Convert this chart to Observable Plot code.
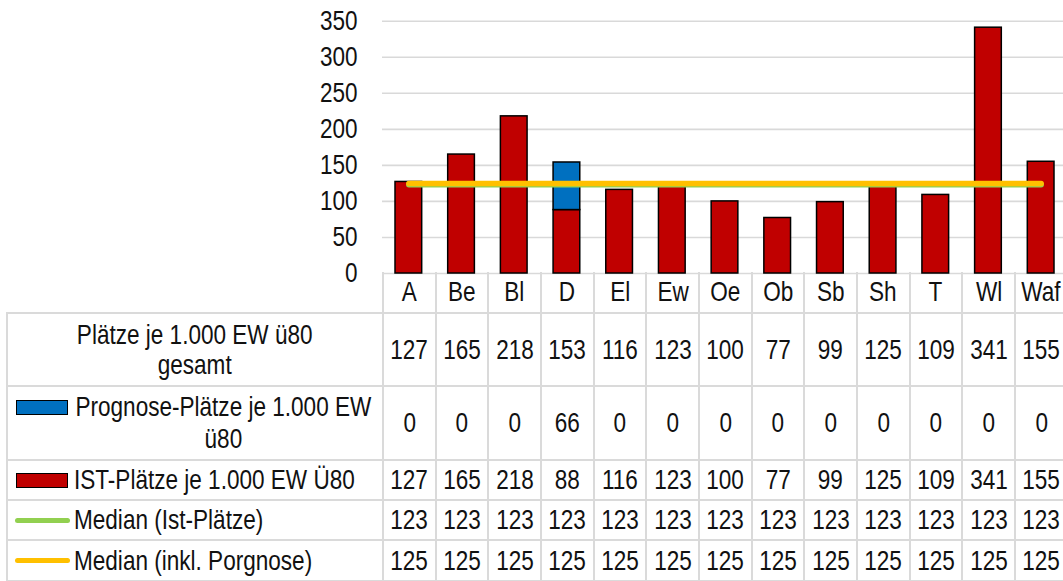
<!DOCTYPE html>
<html>
<head>
<meta charset="utf-8">
<script src="https://cdn.jsdelivr.net/npm/d3@7"></script>
<script src="https://cdn.jsdelivr.net/npm/@observablehq/plot@0.6"></script>
<style>
  html, body { margin: 0; padding: 0; background: #fff; }
  body { width: 1063px; height: 581px; overflow: hidden; position: relative;
         font-family: "Liberation Sans", Arial, sans-serif; color: #111; }
  #chart { position: absolute; left: 0; top: 0; }
  #tbl { position: absolute; left: 6px; top: 272.3px; width: 1060.7px; border-collapse: collapse; table-layout: fixed;
         font-size: 27.5px; }
  #tbl td { border: 2px solid #dadada; padding: 0; text-align: center; vertical-align: middle; white-space: nowrap; overflow: visible; }
  #tbl tr.cats td { border-top: none; }
  #tbl tr.cats td.blank { border-left: none; }
  .s { display: inline-block; transform: scaleX(0.82); transform-origin: 50% 50%; }
  .lab { display: flex; align-items: center; padding-left: 8px; text-align: left; }
  .lab .txt { margin-left: 6px; }
  .lab .lkey + .txt { margin-left: 4px; }
  .lab .txt .s { transform-origin: 0 50%; }
  .lab.two { align-items: flex-start; padding-right: 9px; }
  .lab.two .txt { flex: 1; display: flex; justify-content: center; text-align: center; line-height: 32px; margin-left: 6px; min-width: 0; }
  .lab.two .txt .s { transform-origin: 50% 50%; flex: none; }
  .key { display: inline-block; box-sizing: border-box; width: 52px; height: 15px; border: 1.5px solid #000; flex: none; }
  .lab.two .key { margin-top: 8.5px; }
  .lkey { display: inline-block; width: 55px; height: 5px; border-radius: 3px; flex: none; margin-left: -1px; }
  .c1 { line-height: 30px; }
</style>
</head>
<body>
<div id="chart"></div>
<table id="tbl"></table>
<script>
// ---- data ----
const categories = ["A", "Be", "Bl", "D", "El", "Ew", "Oe", "Ob", "Sb", "Sh", "T", "Wl", "Waf"];
const gesamt     = [127, 165, 218, 153, 116, 123, 100, 77, 99, 125, 109, 341, 155];
const prognose   = [0, 0, 0, 66, 0, 0, 0, 0, 0, 0, 0, 0, 0];
const ist        = [127, 165, 218, 88, 116, 123, 100, 77, 99, 125, 109, 341, 155];
const medianIst  = [123, 123, 123, 123, 123, 123, 123, 123, 123, 123, 123, 123, 123];
const medianInkl = [125, 125, 125, 125, 125, 125, 125, 125, 125, 125, 125, 125, 125];
const yTicks     = [0, 50, 100, 150, 200, 250, 300, 350];

const sProg = "Prognose-Plätze je 1.000 EW ü80";
const sIst = "IST-Plätze je 1.000 EW Ü80";
const sMedIst = "Median (Ist-Plätze)";
const sMedInkl = "Median (inkl. Porgnose)";

const colors = { ist: "#C00000", prog: "#0070C0", medIst: "#92D050", medInkl: "#FFC000" };

// tidy rows for stacking: IST first, then Prognose on top
const barRows = [];
categories.forEach((c, i) => {
  barRows.push({ cat: c, series: sIst, value: ist[i] });
  barRows.push({ cat: c, series: sProg, value: prognose[i] });
});
const medIstRows = categories.map((c, i) => ({ cat: c, value: medianIst[i] }));
const medInklRows = categories.map((c, i) => ({ cat: c, value: medianInkl[i] }));

const font = '"Liberation Sans", Arial, sans-serif';

const plot = Plot.plot({
  width: 1067,
  height: 283,
  marginLeft: 382,
  marginRight: 0,
  marginTop: 20.7,
  marginBottom: 10,
  style: { fontFamily: font, fontSize: "27.5px", background: "#fff", color: "#111", overflow: "visible", maxWidth: "none" },
  x: { domain: categories, padding: 0, round: false, axis: null },
  y: { domain: [0, 350], axis: null },
  color: { domain: [sIst, sProg], range: [colors.ist, colors.prog] },
  marks: [
    Plot.gridY(yTicks, { stroke: "#d9d9d9", strokeOpacity: 1, strokeWidth: 1.6 }),
    Plot.axisY(yTicks, { anchor: "left", tickSize: 0, tickPadding: 25, label: null, fill: "#111", fontSize: 27.5 }),
    Plot.barY(barRows.filter(d => d.value > 0), Plot.stackY({
      x: "cat", y: "value", fill: "series", stroke: "#000", strokeWidth: 1.5,
      insetLeft: 13, insetRight: 13
    })),
    Plot.lineY(medIstRows, { x: "cat", y: "value", stroke: colors.medIst, strokeWidth: 5.5, strokeLinecap: "round" }),
    Plot.lineY(medInklRows, { x: "cat", y: "value", stroke: colors.medInkl, strokeWidth: 5.5, strokeLinecap: "round" })
  ]
});
plot.style.maxWidth = "none";
document.getElementById("chart").appendChild(plot);

// condense the y tick labels horizontally (narrow font look), anchored at their end
plot.querySelectorAll("text").forEach(t => {
  const bb = t.getBBox();
  const ax = bb.x + bb.width;
  const prev = t.getAttribute("transform") || "";
  t.setAttribute("transform", `${prev} translate(${ax},0) scale(0.82,1) translate(${-ax},0)`);
});

// ---- data table ----
const S = txt => `<span class="s">${txt}</span>`;
const tbl = document.getElementById("tbl");
const colW = 52.67;
let html = '<colgroup><col style="width:376px">' + categories.map(() => `<col style="width:${colW}px">`).join("") + '</colgroup>';
html += '<tr class="cats" style="height:41px"><td class="blank"></td>' + categories.map(c => `<td>${S(c)}</td>`).join("") + '</tr>';
const rows = [
  { h: 73, label: `<div class="c1">${S("Plätze je 1.000 EW ü80<br>gesamt")}</div>`, vals: gesamt },
  { h: 74, label: `<div class="lab two"><span class="key" style="background:${colors.prog}"></span><span class="txt">${S("Prognose-Plätze je 1.000 EW<br>ü80")}</span></div>`, vals: prognose },
  { h: 40, label: `<div class="lab"><span class="key" style="background:${colors.ist}"></span><span class="txt">${S(sIst)}</span></div>`, vals: ist },
  { h: 40, label: `<div class="lab"><span class="lkey" style="background:${colors.medIst}"></span><span class="txt">${S(sMedIst)}</span></div>`, vals: medianIst },
  { h: 41, label: `<div class="lab"><span class="lkey" style="background:${colors.medInkl}"></span><span class="txt">${S(sMedInkl)}</span></div>`, vals: medianInkl }
];
rows.forEach(r => {
  html += `<tr style="height:${r.h}px"><td>${r.label}</td>` + r.vals.map(v => `<td>${S(v)}</td>`).join("") + '</tr>';
});
tbl.innerHTML = html;
</script>
</body>
</html>
